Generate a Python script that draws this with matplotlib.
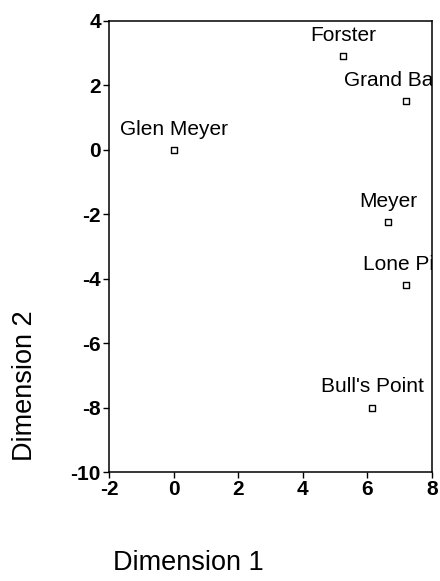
import matplotlib
matplotlib.use("Agg")
from matplotlib import pyplot as plt

names = ["Glen Meyer", "Forster", "Grand Bay", "Meyer", "Lone Pine", "Bull's Point"]
dim1 = [0.0, 5.25, 7.2, 6.65, 7.2, 6.15]
dim2 = [0.0, 2.9, 1.5, -2.25, -4.2, -8.0]
xticks = [-2, 0, 2, 4, 6, 8]
yticks = [4, 2, 0, -2, -4, -6, -8, -10]

# horizontal nudge of some labels (points)
label_dx = {"Grand Bay": -9, "Lone Pine": 3}

plt.rcParams['font.family'] = ['Liberation Sans', 'DejaVu Sans']
plt.rcParams['axes.unicode_minus'] = False

fig = plt.figure(figsize=(4.4, 5.81), dpi=100)
ax = fig.add_axes([0.248, 0.1876, 0.734, 0.7764])
ax.scatter(dim1, dim2, s=16, marker='s', facecolors='white', edgecolors='black', linewidths=1, zorder=3)
for n, x, y in zip(names, dim1, dim2):
    ax.annotate(n, (x, y), xytext=(label_dx.get(n, 0), 11), textcoords='offset points',
                ha='center', va='baseline', fontsize=15, color='black',
                annotation_clip=False, clip_on=True)

ax.set_xlim(-2, 8)
ax.set_ylim(-10, 4)
ax.set_xticks(xticks)
ax.set_yticks(yticks)
ax.tick_params(direction='out', length=4, width=1, labelsize=15, pad=2)
for lab in ax.get_xticklabels() + ax.get_yticklabels():
    lab.set_fontweight('bold')
for s in ax.spines.values():
    s.set_linewidth(1.1)

fig.text(0.427, 0.031, "Dimension 1", fontsize=19.5, ha='center', va='center')
fig.text(0.057, 0.337, "Dimension 2", fontsize=19.5, ha='center', va='center', rotation=90)

fig.savefig("out.png", dpi=100)
